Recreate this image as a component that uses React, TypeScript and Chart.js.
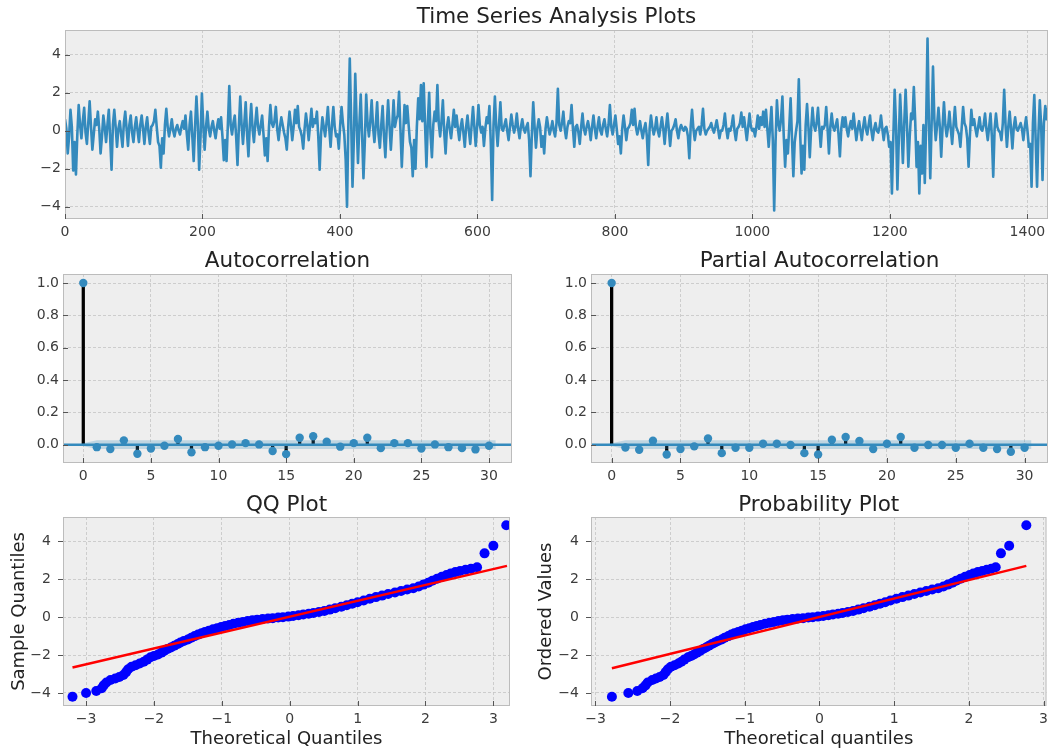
import React, { useEffect, useRef } from "react";
import { Chart, registerables } from "chart.js";

Chart.register(...registerables);

const FONT = "'DejaVu Sans', 'Liberation Sans', sans-serif";
const C0 = "#348ABD";
const GRID = "#c4c4c4";
const TICK_COLOR = "#3c3c3c";
const TEXT_COLOR = "#222222";

// ---------- Time series (evenly spaced samples) ----------
const tsValues = [
  0.6, 0.1, -1.2, -0.3, 1.1, 0.2, -2.1, -0.6, -2.3, -0.2, 1.35, 0.3, -0.4, 0.5, 1.2, -0.1, -0.7, 0.4, 1.55, 0.2,
  -1.0, -0.2, 0.6, 0.3, 1.0, 0.1, -1.2, -0.3, 0.8, 0.2, -0.6, 0.3, 1.1, -0.4, -2.05, 0.3, 1.1, 0.2, -0.85, 0.1,
  0.5, -0.2, -0.85, 0.4, 1.0, 0.1, -0.8, 0.3, 0.8, -0.1, -0.6, 0.2, 0.7, 0.0, -0.6, 0.3, 0.8, 0.1, -0.7, 0.2,
  0.7, -0.1, -0.7, 0.2, 0.3, 0.5, 1.1, 0.2, -0.6, -0.8, -1.95, -0.4, -1.2, 0.3, 1.15, 0.2, -0.3, 0.1, 0.6, 0.0,
  -0.3, 0.1, 0.3, 0.0, -0.2, 0.2, 0.5, 0.1, 0.8, -0.2, -1.0, 0.3, 1.0, -0.3, -1.6, 0.2, 1.8, 0.4, -2.05, -0.3,
  1.95, 0.3, -1.0, 0.2, 1.0, 0.1, -0.3, 0.2, 0.5, 0.0, -0.4, 0.2, 0.6, 0.1, 0.7, -0.3, -1.55, -0.5, -1.6, 0.4,
  2.35, 0.3, -0.2, 0.4, 0.8, -0.3, -1.8, 0.2, 1.8, 0.3, -0.7, 0.4, 1.5, -0.2, -1.35, 0.3, 1.4, 0.1, -0.6, 0.4,
  1.2, 0.2, -0.2, 0.3, 0.8, -0.2, -1.3, -0.4, -1.6, 0.2, 1.35, 0.4, 0.2, 0.5, 1.25, 0.1, -0.5, 0.2, 0.7, 0.3,
  -0.1, -0.4, -1.0, 0.2, 1.0, 0.3, -0.5, 0.2, 1.1, 0.4, 1.3, 0.2, 0.0, -0.3, -0.95, 0.1, 0.9, 0.3, -0.5, 0.3,
  1.15, 0.2, 0.6, 0.4, 1.0, -0.3, -2.05, -0.2, 0.7, 0.2, -0.3, 0.4, 1.25, 0.1, -0.85, 0.3, 1.25, 0.2, -0.3, -0.2,
  -0.95, 0.3, 1.25, 0.4, -0.2, -1.5, -4.0, 0.5, 3.8, 0.6, -2.95, -0.4, 3.0, 0.5, -1.7, 0.3, 1.9, -0.2, -2.5, -0.6,
  1.9, 0.4, -0.3, 0.5, 1.6, 0.2, -0.6, 0.3, 1.5, -0.2, -0.9, 0.3, 1.3, -0.3, -1.4, 0.2, 1.6, 0.3, -1.0, 0.2,
  1.6, 0.2, 0.6, 0.8, 2.05, 0.1, -1.9, -0.2, 1.35, 0.4, 1.3, 0.3, -0.6, -0.9, -2.4, -0.5, -2.0, 0.2, 1.7, 0.6,
  2.4, 0.5, 2.5, 0.3, -1.9, 0.4, 2.0, -0.2, -1.4, 0.3, 1.0, 0.5, 2.4, 0.4, -0.3, 0.5, 1.6, -0.1, -1.2, 0.2,
  0.7, 0.1, -0.4, 0.3, 1.1, 0.2, 0.8, 0.1, -0.5, 0.2, 0.6, -0.1, -0.85, 0.2, 0.8, 0.0, -0.7, 0.3, 1.25, 0.2,
  -0.8, 0.2, 1.35, 0.3, -0.1, 0.2, -0.8, 0.1, 0.7, 0.4, 1.3, -0.6, -3.65, 0.3, 1.8, 0.2, -0.8, 0.3, 1.5, 0.1,
  0.0, 0.3, 0.6, 0.0, -0.5, 0.2, 0.85, 0.3, -0.1, 0.2, 0.9, 0.1, -0.4, 0.2, 0.6, 0.1, -0.1, 0.2, 0.4, -0.5,
  -2.4, -0.2, 1.5, 0.2, -0.9, 0.1, 0.6, 0.2, -0.85, -0.3, -1.2, 0.1, 0.7, 0.2, -0.2, 0.1, 0.5, 0.0, -0.3, 0.4,
  2.2, 0.3, 0.0, 0.4, 1.0, 0.1, -0.4, 0.2, 0.5, 0.4, 1.35, 0.1, -0.85, 0.2, 0.3, -0.1, -0.7, 0.2, 0.9, 0.1,
  -0.2, 0.2, 0.5, 0.1, -0.5, 0.2, 0.8, 0.1, -0.4, 0.2, 0.7, 0.0, -0.2, 0.3, 0.6, 0.1, -0.3, 0.3, 1.35, 0.2,
  -0.2, 0.3, 0.8, 0.1, -0.7, -0.3, -1.2, 0.1, 0.8, 0.2, -0.5, 0.1, 0.2, 0.4, 1.1, 0.3, 1.15, 0.2, -0.2, 0.1,
  0.5, 0.0, -0.4, 0.1, 0.4, -0.3, -1.8, 0.1, 0.8, 0.2, -0.2, 0.1, 0.7, 0.0, -0.3, 0.2, 0.7, 0.1, -0.7, 0.2,
  0.9, 0.1, -0.8, 0.0, 0.1, 0.3, 0.6, 0.0, -0.4, 0.1, 0.3, 0.1, 0.0, 0.2, 0.1, -0.3, -1.45, 0.2, 1.1, 0.1,
  -0.5, 0.0, 0.1, 0.2, -0.2, 0.3, 1.15, 0.1, -0.2, 0.0, 0.1, 0.2, 0.4, 0.1, -0.1, 0.2, 0.55, 0.1, -0.4, 0.0,
  0.0, 0.3, 0.9, 0.1, -0.4, 0.1, 0.0, 0.3, 0.8, 0.0, -0.5, 0.1, 0.2, 0.4, 0.95, 0.2, 0.7, 0.1, -0.5, 0.2,
  0.9, 0.2, 0.0, 0.1, -0.3, 0.2, 0.8, 0.1, 0.7, 0.3, 1.0, 0.2, 1.1, 0.1, -0.85, 0.2, 1.25, -0.5, -4.2, -0.6,
  1.6, 0.4, 0.0, 0.6, 1.8, -0.3, -1.9, -0.5, -1.2, 0.2, 1.7, -0.4, -2.4, -0.6, 0.0, 0.5, 2.7, -0.2, -2.25, -0.8,
  -2.05, 0.3, 1.4, 0.2, -1.4, 0.1, 1.2, 0.3, 0.0, 0.4, 1.2, 0.1, -0.85, 0.2, 0.1, 0.3, 1.25, 0.1, -1.2, 0.2,
  0.9, 0.2, 0.0, 0.3, 0.6, -0.2, -1.35, 0.1, 0.7, 0.2, 0.7, 0.1, -0.3, 0.2, 0.5, 0.1, 0.9, 0.2, -0.5, 0.1,
  0.5, 0.0, -0.5, 0.2, 0.7, 0.1, -0.2, 0.3, 0.8, 0.0, -0.5, 0.1, 0.4, 0.0, -0.1, 0.2, 0.8, 0.1, -0.5, 0.1,
  0.2, -0.2, -0.85, -0.6, -3.3, -0.4, 2.15, 0.3, -3.1, -0.5, 1.9, 0.2, -1.7, 0.4, 2.15, 0.3, -1.9, -0.3, 0.9, 0.6,
  2.3, 0.5, -1.9, -0.6, -3.3, -0.8, -2.25, 0.3, -2.75, 0.4, 4.85, 0.5, -2.5, 0.4, 3.37, 0.6, -0.5, 0.3, 1.2, 0.2,
  -1.37, 0.2, 1.5, 0.3, -0.3, 0.2, 1.0, 0.1, -0.7, 0.3, 1.25, 0.2, 0.0, -0.2, -0.85, 0.2, 1.25, 0.4, 0.2, -0.4,
  -1.9, -0.2, 1.1, 0.3, 0.6, 0.1, -0.3, 0.2, 0.7, 0.1, 0.0, 0.3, 0.9, 0.1, -0.5, 0.2, 0.9, -0.3, -2.42, 0.1,
  0.9, 0.2, 0.0, -0.1, -0.5, 0.4, 2.15, 0.3, -0.85, 0.2, 1.0, 0.1, -0.93, 0.2, 0.7, 0.1, 0.0, 0.2, 0.4, 0.1,
  -0.5, 0.2, 0.7, 0.0, -0.85, -0.7, -2.95, 0.4, 1.88, -0.5, -2.95, -0.2, 1.6, 0.3, -2.6, 0.4, 1.3, 0.6, 1.2,
];
const tsXRange = [0, 1430];
const tsYRange = [-4.65, 5.3];
const tsXTicks = [0, 200, 400, 600, 800, 1000, 1200, 1400];
const tsYTicks = [-4, -2, 0, 2, 4];

// ---------- ACF / PACF ----------
const lags = [0, 1, 2, 3, 4, 5, 6, 7, 8, 9, 10, 11, 12, 13, 14, 15, 16, 17, 18, 19, 20, 21, 22, 23, 24, 25, 26, 27, 28, 29, 30];
const acfValues = [
  1.0, -0.015, -0.027, 0.027, -0.056, -0.023, -0.006, 0.035, -0.047, -0.015,
  -0.006, 0.002, 0.01, 0.002, -0.039, -0.058, 0.043, 0.052, 0.019, -0.012,
  0.01, 0.043, -0.021, 0.01, 0.01, -0.023, 0.002, -0.015, -0.021, -0.029, -0.006,
];
const pacfValues = [
  1.0, -0.017, -0.031, 0.025, -0.06, -0.027, -0.01, 0.039, -0.052, -0.019,
  -0.019, 0.006, 0.006, -0.002, -0.052, -0.06, 0.031, 0.048, 0.023, -0.027,
  0.006, 0.048, -0.019, -0.002, -0.002, -0.019, 0.006, -0.019, -0.027, -0.043, -0.019,
];
const bandX = [-0.5, 1, 30.5];
const acfBandHalf = [0, 0.027, 0.027];
const pacfBandHalf = [0, 0.027, 0.027];
const corrXRange = [-1.5, 31.7];
const corrYRange = [-0.113, 1.056];
const corrXTicks = [0, 5, 10, 15, 20, 25, 30];
const corrYTicks = [0, 0.2, 0.4, 0.6, 0.8, 1.0];

// ---------- QQ / probability plot ----------
const orderedValues = [
  -4.2, -4.0, -3.9, -3.75, -3.6, -3.45, -3.32, -3.24, -3.16, -3.05,
  -2.9, -2.75, -2.62, -2.54, -2.45, -2.35, -2.24, -2.12, -2.05, -1.97,
  -1.87, -1.78, -1.68, -1.6, -1.51, -1.42, -1.34, -1.26, -1.18, -1.09,
  -1.0, -0.92, -0.85, -0.78, -0.71, -0.64, -0.58, -0.52, -0.46, -0.41,
  -0.35, -0.3, -0.25, -0.2, -0.16, -0.13, -0.1, -0.07, -0.05, -0.02,
  0.0, 0.03, 0.06, 0.1, 0.14, 0.18, 0.22, 0.27, 0.33, 0.4,
  0.47, 0.55, 0.63, 0.71, 0.79, 0.88, 0.97, 1.06, 1.14, 1.22,
  1.3, 1.38, 1.46, 1.53, 1.62, 1.72, 1.82, 1.92, 2.03, 2.13,
  2.23, 2.31, 2.38, 2.44, 2.5, 2.56, 2.64, 3.37, 3.77, 4.85,
];
const qqTheoretical = [
  -3.2, -3.0, -2.85, -2.77, -2.74, -2.7, -2.64, -2.57, -2.51, -2.45,
  -2.41, -2.38, -2.33, -2.27, -2.21, -2.15, -2.1, -2.05, -2.0, -1.94,
  -1.89, -1.85, -1.8, -1.75, -1.7, -1.65, -1.61, -1.56, -1.5, -1.45,
  -1.4, -1.35, -1.3, -1.25, -1.19, -1.13, -1.07, -1.01, -0.95, -0.89,
  -0.83, -0.76, -0.69, -0.62, -0.55, -0.48, -0.4, -0.32, -0.25, -0.17,
  -0.1, -0.02, 0.05, 0.13, 0.2, 0.28, 0.35, 0.43, 0.51, 0.59,
  0.67, 0.76, 0.84, 0.92, 1.0, 1.09, 1.18, 1.27, 1.36, 1.45,
  1.55, 1.64, 1.73, 1.82, 1.9, 1.97, 2.04, 2.1, 2.17, 2.24,
  2.31, 2.37, 2.44, 2.51, 2.59, 2.67, 2.76, 2.87, 3.0, 3.19,
];
const probTheoretical = [
  -2.78, -2.56, -2.44, -2.37, -2.33, -2.3, -2.24, -2.19, -2.14, -2.09,
  -2.06, -2.03, -1.99, -1.94, -1.89, -1.85, -1.81, -1.76, -1.72, -1.68,
  -1.64, -1.6, -1.56, -1.52, -1.48, -1.44, -1.4, -1.36, -1.31, -1.27,
  -1.22, -1.18, -1.14, -1.09, -1.04, -0.99, -0.94, -0.89, -0.84, -0.79,
  -0.73, -0.67, -0.61, -0.55, -0.49, -0.43, -0.36, -0.29, -0.22, -0.15,
  -0.09, -0.02, 0.05, 0.12, 0.18, 0.25, 0.31, 0.38, 0.45, 0.52,
  0.59, 0.67, 0.74, 0.81, 0.88, 0.95, 1.03, 1.11, 1.19, 1.27,
  1.35, 1.43, 1.51, 1.59, 1.66, 1.72, 1.78, 1.83, 1.89, 1.95,
  2.01, 2.06, 2.12, 2.18, 2.24, 2.3, 2.36, 2.43, 2.54, 2.77,
];
const qqLineX = [-3.2, 3.2];
const qqLineY = [-2.66, 2.71];
const probLineX = [-2.78, 2.77];
const probLineY = [-2.7, 2.71];
const qqXRange = [-3.34, 3.245];
const probXRange = [-3.06, 3.04];
const qqYRange = [-4.69, 5.29];
const qqXTicks = [-3, -2, -1, 0, 1, 2, 3];
const qqYTicks = [-4, -2, 0, 2, 4];

// ---------- helpers ----------
const fmtInt = (v: number) => (v < 0 ? "\u2212" + Math.abs(v) : String(v));
const fmt1 = (v: number) => (v < 0 ? "\u2212" : "") + Math.abs(v).toFixed(1);

const framePlugin = {
  id: "frame",
  beforeDraw(chart: any) {
    const { ctx, chartArea: a } = chart;
    ctx.save();
    ctx.fillStyle = "#eeeeee";
    ctx.fillRect(a.left, a.top, a.right - a.left, a.bottom - a.top);
    ctx.restore();
  },
  afterDraw(chart: any, _args: any, opts: any) {
    const { ctx, chartArea: a } = chart;
    ctx.save();
    ctx.strokeStyle = "#bcbcbc";
    ctx.lineWidth = 1;
    ctx.strokeRect(a.left + 0.5, a.top + 0.5, a.right - a.left - 1, a.bottom - a.top - 1);
    ctx.strokeStyle = "#555555";
    ctx.lineWidth = 1;
    const xs = chart.scales.x;
    const ys = chart.scales.y;
    const len = 5;
    ctx.beginPath();
    for (const t of xs.ticks) {
      const px = Math.round(xs.getPixelForValue(t.value)) + 0.5;
      ctx.moveTo(px, a.bottom);
      ctx.lineTo(px, a.bottom + (opts && opts.xOut ? len : -len));
    }
    for (const t of ys.ticks) {
      const py = Math.round(ys.getPixelForValue(t.value)) + 0.5;
      ctx.moveTo(a.left, py);
      ctx.lineTo(a.left + (opts && opts.yOut ? -len : len), py);
    }
    ctx.stroke();
    ctx.restore();
  },
};

function makeScale(o: {
  range: number[];
  ticks: number[];
  fmt: (v: number) => string;
  axis: "x" | "y";
  size: number;
  pad: number;
  title?: string;
  titlePad?: any;
}) {
  return {
    type: "linear",
    min: o.range[0],
    max: o.range[1],
    offset: false,
    afterBuildTicks: (s: any) => {
      s.ticks = o.ticks.map((v) => ({ value: v }));
    },
    afterFit: (s: any) => {
      if (o.axis === "x") s.height = o.size;
      else s.width = o.size;
    },
    grid: { display: true, color: GRID, lineWidth: 0.8, drawTicks: false, tickLength: 0, offset: false },
    border: { display: false, dash: [3, 2] },
    ticks: {
      color: TICK_COLOR,
      font: { family: FONT, size: 14 },
      padding: o.pad,
      autoSkip: false,
      maxRotation: 0,
      minRotation: 0,
      callback: (v: any) => o.fmt(Number(v)),
    },
    title: o.title
      ? { display: true, text: o.title, color: TEXT_COLOR, font: { family: FONT, size: 18 }, padding: o.titlePad }
      : { display: false },
  };
}

function titleOpts(text: string, top: number, bottom: number) {
  return {
    display: true,
    fullSize: false,
    text,
    color: TEXT_COLOR,
    font: { family: FONT, size: 21.5, weight: "normal", lineHeight: 1 },
    padding: { top, bottom },
  };
}

function baseOptions(pluginsExtra: any, layoutRight: number) {
  return {
    animation: false,
    responsive: false,
    devicePixelRatio: 1,
    events: [],
    layout: { padding: { left: 0, right: layoutRight, top: 0, bottom: 0 }, autoPadding: false },
    plugins: { legend: { display: false }, tooltip: { enabled: false }, ...pluginsExtra },
  };
}

// ---------- chart configs ----------
function tsConfig() {
  const step = tsXRange[1] / (tsValues.length - 1);
  return {
    type: "line",
    data: {
      datasets: [
        {
          data: tsValues.map((v, i) => ({ x: i * step, y: v })),
          borderColor: C0,
          borderWidth: 2.6,
          pointRadius: 0,
          tension: 0,
          borderJoinStyle: "round",
          fill: false,
        },
      ],
    },
    options: {
      ...baseOptions({ title: titleOpts("Time Series Analysis Plots", 7, 1.5), frame: {} }, 5),
      scales: {
        x: makeScale({ range: tsXRange, ticks: tsXTicks, fmt: fmtInt, axis: "x", size: 26, pad: 5 }),
        y: makeScale({ range: tsYRange, ticks: tsYTicks, fmt: fmtInt, axis: "y", size: 65, pad: 4 }),
      },
    },
    plugins: [framePlugin],
  };
}

function corrConfig(title: string, values: number[], bandHalf: number[], yWidth: number, rightPad: number) {
  return {
    type: "scatter",
    data: {
      datasets: [
        {
          type: "scatter",
          data: lags.map((l, i) => ({ x: l, y: values[i] })),
          backgroundColor: C0,
          borderColor: C0,
          borderWidth: 0,
          pointRadius: 4.2,
        },
        {
          type: "line",
          data: bandX.map((x, i) => ({ x, y: bandHalf[i] })),
          borderWidth: 0,
          borderColor: "rgba(0,0,0,0)",
          pointRadius: 0,
          tension: 0,
          fill: "+1",
          backgroundColor: "rgba(52,138,189,0.25)",
        },
        {
          type: "line",
          data: bandX.map((x, i) => ({ x, y: -bandHalf[i] })),
          borderWidth: 0,
          borderColor: "rgba(0,0,0,0)",
          pointRadius: 0,
          tension: 0,
          fill: false,
        },
        {
          type: "line",
          data: [
            { x: corrXRange[0], y: 0 },
            { x: corrXRange[1], y: 0 },
          ],
          borderColor: C0,
          borderWidth: 2.4,
          pointRadius: 0,
          fill: false,
        },
        {
          type: "bar",
          data: lags.map((l, i) => ({ x: l, y: values[i] })),
          backgroundColor: "#000000",
          barThickness: 2.6,
          grouped: false,
        },
      ],
    },
    options: {
      ...baseOptions({ title: titleOpts(title, 6, 1.5), frame: {} }, rightPad),
      scales: {
        x: makeScale({ range: corrXRange, ticks: corrXTicks, fmt: fmtInt, axis: "x", size: 27, pad: 5 }),
        y: makeScale({ range: corrYRange, ticks: corrYTicks, fmt: fmt1, axis: "y", size: yWidth, pad: 4 }),
      },
    },
    plugins: [framePlugin],
  };
}

function qqConfig(
  title: string,
  xs: number[],
  lineX: number[],
  lineY: number[],
  xRange: number[],
  xTitle: string,
  yTitle: string,
  yWidth: number,
  rightPad: number,
  yTitlePad: number
) {
  return {
    type: "scatter",
    data: {
      datasets: [
        {
          type: "line",
          data: lineX.map((x, i) => ({ x, y: lineY[i] })),
          borderColor: "#ff0000",
          borderWidth: 2.5,
          pointRadius: 0,
          fill: false,
        },
        {
          type: "scatter",
          data: xs.map((x, i) => ({ x, y: orderedValues[i] })),
          backgroundColor: "#0000ff",
          borderColor: "#0000ff",
          borderWidth: 0,
          pointRadius: 5,
        },
      ],
    },
    options: {
      ...baseOptions({ title: titleOpts(title, 5, 0.5), frame: { yOut: true } }, rightPad),
      scales: {
        x: makeScale({
          range: xRange,
          ticks: qqXTicks,
          fmt: fmtInt,
          axis: "x",
          size: 47,
          pad: 5,
          title: xTitle,
          titlePad: { top: 0, bottom: 3 },
        }),
        y: makeScale({
          range: qqYRange,
          ticks: qqYTicks,
          fmt: fmtInt,
          axis: "y",
          size: yWidth,
          pad: 12,
          title: yTitle,
          titlePad: { top: yTitlePad, bottom: 0 },
        }),
      },
    },
    plugins: [framePlugin],
  };
}

function ChartBox(props: { left: number; top: number; width: number; height: number; make: () => any }) {
  const ref = useRef<HTMLCanvasElement | null>(null);
  useEffect(() => {
    if (!ref.current) return;
    const chart = new Chart(ref.current, props.make());
    return () => chart.destroy();
  }, []);
  return (
    <canvas
      ref={ref}
      width={props.width}
      height={props.height}
      style={{
        position: "absolute",
        left: props.left,
        top: props.top,
        width: props.width,
        height: props.height,
        display: "block",
      }}
    />
  );
}

export default function App() {
  return (
    <div
      style={{
        position: "absolute",
        left: 0,
        top: 0,
        width: 1053,
        height: 753,
        background: "#ffffff",
        overflow: "hidden",
      }}
    >
      <ChartBox left={0} top={0} width={1053} height={245} make={tsConfig} />
      <ChartBox left={0} top={245} width={527} height={245} make={() => corrConfig("Autocorrelation", acfValues, acfBandHalf, 63, 15)} />
      <ChartBox left={527} top={245} width={526} height={245} make={() => corrConfig("Partial Autocorrelation", pacfValues, pacfBandHalf, 64, 5)} />
      <ChartBox
        left={0}
        top={490}
        width={527}
        height={263}
        make={() => qqConfig("QQ Plot", qqTheoretical, qqLineX, qqLineY, qqXRange, "Theoretical Quantiles", "Sample Quantiles", 63, 17, 8.5)}
      />
      <ChartBox
        left={527}
        top={490}
        width={526}
        height={263}
        make={() => qqConfig("Probability Plot", probTheoretical, probLineX, probLineY, probXRange, "Theoretical quantiles", "Ordered Values", 64, 4, 9)}
      />
    </div>
  );
}
